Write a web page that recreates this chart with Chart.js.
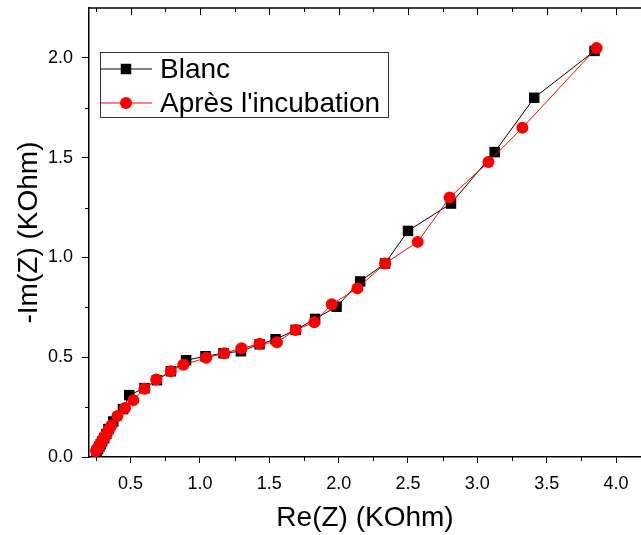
<!DOCTYPE html>
<html>
<head>
<meta charset="utf-8">
<script src="https://cdn.jsdelivr.net/npm/chart.js@4.4.1/dist/chart.umd.min.js"></script>
<style>
  html, body { margin: 0; padding: 0; background: #fff; }
</style>
</head>
<body>
<canvas id="nyquist" width="641" height="535"></canvas>
<script>
// Nyquist data, KOhm
const blancRe = [0.255, 0.265, 0.275, 0.285, 0.295, 0.31, 0.325, 0.34, 0.375, 0.445, 0.49, 0.60, 0.69, 0.79, 0.90, 1.04, 1.17, 1.295, 1.43, 1.545, 1.69, 1.83, 1.985, 2.155, 2.335, 2.50, 2.81, 3.125, 3.41, 3.845];
const blancIm = [0.03, 0.04, 0.052, 0.064, 0.078, 0.095, 0.115, 0.14, 0.178, 0.24, 0.31, 0.345, 0.385, 0.43, 0.485, 0.505, 0.52, 0.53, 0.565, 0.59, 0.637, 0.692, 0.753, 0.88, 0.97, 1.133, 1.27, 1.528, 1.80, 2.035];
const apresRe = [0.25, 0.258, 0.266, 0.275, 0.284, 0.294, 0.305, 0.318, 0.332, 0.346, 0.36, 0.405, 0.46, 0.52, 0.60, 0.685, 0.79, 0.88, 1.045, 1.175, 1.30, 1.43, 1.555, 1.69, 1.825, 1.95, 2.135, 2.335, 2.57, 2.80, 3.08, 3.325, 3.86];
const apresIm = [0.03, 0.038, 0.047, 0.057, 0.068, 0.08, 0.093, 0.108, 0.124, 0.14, 0.157, 0.205, 0.245, 0.285, 0.342, 0.388, 0.43, 0.462, 0.497, 0.52, 0.545, 0.567, 0.575, 0.637, 0.675, 0.765, 0.845, 0.97, 1.078, 1.30, 1.478, 1.65, 2.05];

const xMajor = [0.5, 1.0, 1.5, 2.0, 2.5, 3.0, 3.5, 4.0];
const xMinor = [0.25, 0.75, 1.25, 1.75, 2.25, 2.75, 3.25, 3.75];
const yMajor = [0.0, 0.5, 1.0, 1.5, 2.0];
const yMinor = [0.25, 0.75, 1.25, 1.75];

const FONT = "'Liberation Sans', Arial, sans-serif";

const toPts = (xs, ys) => xs.map((v, i) => ({ x: v, y: ys[i] }));

// top axis, minor ticks and the boxed legend
const frame = {
  id: 'frame',
  afterDraw(chart) {
    const { ctx, chartArea: a, scales: { x, y } } = chart;
    ctx.save();
    ctx.strokeStyle = '#000';
    ctx.lineWidth = 1.5;
    ctx.beginPath();
    ctx.moveTo(a.left, a.top);
    ctx.lineTo(a.right, a.top);
    ctx.stroke();

    ctx.lineWidth = 1;
    ctx.beginPath();
    xMajor.forEach(v => {
      const px = Math.round(x.getPixelForValue(v)) + 0.5;
      ctx.moveTo(px, a.top); ctx.lineTo(px, a.top + 7);
    });
    xMinor.forEach(v => {
      const px = Math.round(x.getPixelForValue(v)) + 0.5;
      ctx.moveTo(px, a.top); ctx.lineTo(px, a.top + 4);
      ctx.moveTo(px, a.bottom); ctx.lineTo(px, a.bottom + 4);
    });
    yMinor.forEach(v => {
      const py = Math.round(y.getPixelForValue(v)) + 0.5;
      ctx.moveTo(a.left - 4, py); ctx.lineTo(a.left, py);
    });
    ctx.stroke();

    // legend
    const box = { l: 100.5, t: 52.5, r: 388.5, b: 117.5 };
    ctx.strokeStyle = '#333';
    ctx.lineWidth = 1;
    ctx.strokeRect(box.l, box.t, box.r - box.l, box.b - box.t);
    const rows = [
      { label: 'Blanc', color: '#000', style: 'rect', y: 69, r: 7.4 },
      { label: "Après l'incubation", color: '#ff0000', style: 'circle', y: 103, r: 6 }
    ];
    rows.forEach(row => {
      ctx.strokeStyle = row.color;
      ctx.lineWidth = 1;
      ctx.beginPath();
      ctx.moveTo(box.l, row.y); ctx.lineTo(152, row.y);
      ctx.stroke();
      ctx.fillStyle = row.color;
      Chart.helpers.drawPoint(ctx, { pointStyle: row.style, radius: row.r, borderWidth: 0 }, 126, row.y);
      ctx.fillStyle = '#000';
      ctx.font = '28px ' + FONT;
      ctx.textAlign = 'left';
      ctx.textBaseline = 'middle';
      ctx.fillText(row.label, 160, row.y + 1);
    });
    ctx.restore();
  }
};

new Chart(document.getElementById('nyquist'), {
  type: 'line',
  data: {
    datasets: [
      {
        label: 'Blanc',
        data: toPts(blancRe, blancIm),
        borderColor: '#000',
        backgroundColor: '#000',
        borderWidth: 1,
        pointStyle: 'rect',
        pointRadius: 7.4,
        pointBorderWidth: 0,
        order: 2
      },
      {
        label: "Après l'incubation",
        data: toPts(apresRe, apresIm),
        borderColor: '#ff0000',
        backgroundColor: '#ff0000',
        borderWidth: 1,
        pointStyle: 'circle',
        pointRadius: 6,
        pointBorderWidth: 0,
        order: 1
      }
    ]
  },
  options: {
    responsive: false,
    animation: false,
    layout: { autoPadding: false, padding: { top: 8, right: 0, left: 0, bottom: 0 } },
    plugins: { legend: { display: false }, tooltip: { enabled: false } },
    scales: {
      x: {
        type: 'linear',
        min: 0.2,
        max: 4.18,
        afterBuildTicks: s => { s.ticks = xMajor.map(v => ({ value: v })); },
        afterFit: s => { s.height = 78; s.paddingLeft = 0; s.paddingRight = 0; },
        grid: { drawOnChartArea: false, tickLength: 6, color: '#000', tickWidth: 1 },
        border: { color: '#000', width: 1.5 },
        ticks: {
          color: '#000',
          padding: 10,
          maxRotation: 0,
          font: { family: FONT, size: 18 },
          callback: v => v.toFixed(1)
        },
        title: {
          display: true,
          text: 'Re(Z) (KOhm)',
          color: '#000',
          font: { family: FONT, size: 28 },
          padding: 0
        }
      },
      y: {
        type: 'linear',
        min: 0,
        max: 2.25,
        afterBuildTicks: s => { s.ticks = yMajor.map(v => ({ value: v })); },
        afterFit: s => { s.width = 89; s.paddingTop = 0; s.paddingBottom = 0; },
        grid: { drawOnChartArea: false, tickLength: 7, color: '#000', tickWidth: 1 },
        border: { color: '#000', width: 1.5 },
        ticks: {
          color: '#000',
          padding: 9,
          font: { family: FONT, size: 18 },
          callback: v => v.toFixed(1)
        },
        title: {
          display: true,
          text: '-Im(Z) (KOhm)',
          color: '#000',
          font: { family: FONT, size: 28 },
          padding: { top: 12, bottom: 0 }
        }
      }
    }
  },
  plugins: [frame]
});
</script>
</body>
</html>
